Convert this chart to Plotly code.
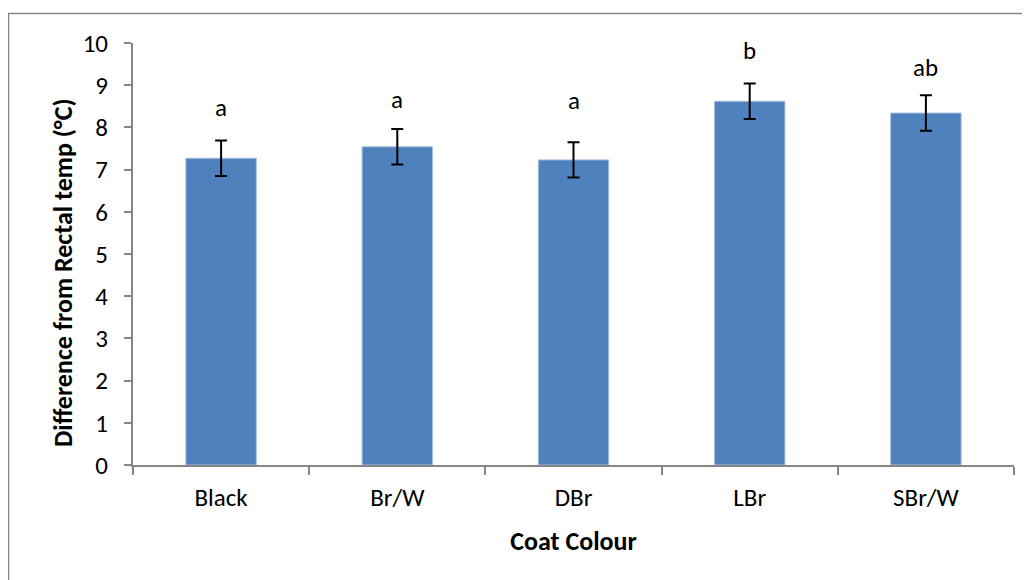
import plotly.graph_objects as go

categories = ["Black", "Br/W", "DBr", "LBr", "SBr/W"]
means = [7.27, 7.54, 7.23, 8.62, 8.34]
errors = [0.42, 0.42, 0.42, 0.42, 0.42]
letters = ["a", "a", "a", "b", "ab"]
letter_y = [8.48, 8.67, 8.63, 9.82, 9.43]
y_ticks = list(range(0, 11))

FONT = "Carlito, Calibri, Lato, sans-serif"
AXIS_COLOR = "#868686"

fig = go.Figure()
fig.add_trace(go.Bar(
    x=categories, y=means,
    marker=dict(color="#4F81BD", line=dict(color="#A9C1E0", width=1)),
    width=0.4,
    error_y=dict(type="data", array=errors, visible=True,
                 color="black", thickness=2, width=6),
    hoverinfo="x+y",
))

for c, l, ly in zip(categories, letters, letter_y):
    fig.add_annotation(x=c, y=ly, text=l, showarrow=False,
                       font=dict(family=FONT, size=25, color="black"),
                       xref="x", yref="y")

# y-axis title (placed like the original, slightly below the plot centre)
fig.add_annotation(xref="paper", yref="paper", x=-0.0795, y=0.457,
                   text="<b>Difference from Rectal temp (°C)</b>", textangle=-90,
                   showarrow=False, xanchor="center", yanchor="middle",
                   font=dict(family=FONT, size=26, color="black"))

# outer chart border
fig.add_shape(type="rect", xref="paper", yref="paper",
              x0=-0.1413, x1=1.05, y0=-0.35, y1=1.0699,
              line=dict(color="#868686", width=1.5), fillcolor="rgba(0,0,0,0)",
              layer="below")

fig.update_layout(
    width=1022, height=572,
    margin=dict(l=125, r=16, t=35, b=115),
    paper_bgcolor="white", plot_bgcolor="white",
    showlegend=False,
    font=dict(family=FONT, size=25, color="black"),
    xaxis=dict(
        showline=True, linecolor=AXIS_COLOR, linewidth=2,
        ticks="outside", tickson="boundaries", ticklen=8,
        tickcolor=AXIS_COLOR, tickwidth=2,
        ticklabelstandoff=9,
        tickfont=dict(family=FONT, size=25, color="black"),
        title=dict(text="<b>Coat Colour</b>", font=dict(family=FONT, size=26, color="black"),
                   standoff=20),
        showgrid=False, zeroline=False,
    ),
    yaxis=dict(
        range=[0, 10], tickvals=y_ticks,
        showline=True, linecolor=AXIS_COLOR, linewidth=2,
        ticks="outside", ticklen=7, tickcolor=AXIS_COLOR, tickwidth=2,
        ticklabelstandoff=11,
        tickfont=dict(family=FONT, size=25, color="black"),
        showgrid=False, zeroline=False,
    ),
)

fig.write_html("out.html")
